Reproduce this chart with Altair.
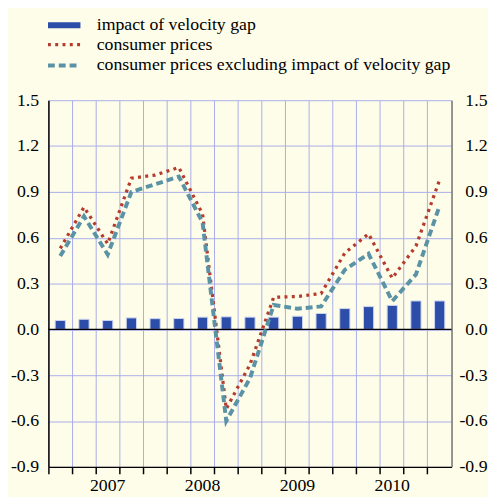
import altair as alt
import pandas as pd

# ---------------- data ----------------
quarters = ["2007Q1", "2007Q2", "2007Q3", "2007Q4",
            "2008Q1", "2008Q2", "2008Q3", "2008Q4",
            "2009Q1", "2009Q2", "2009Q3", "2009Q4",
            "2010Q1", "2010Q2", "2010Q3", "2010Q4",
            "2011Q1"]
velocity_gap = [0.058, 0.066, 0.058, 0.075, 0.07, 0.071, 0.08, 0.082, 0.08,
                0.08, 0.086, 0.104, 0.136, 0.149, 0.157, 0.186, 0.186]
consumer_prices = [0.53, 0.80, 0.56, 0.99, 1.01, 1.06, 0.755, -0.52, -0.23,
                   0.21, 0.215, 0.235, 0.50, 0.625, 0.335, 0.545, 0.98]
excluding_gap = [0.48, 0.74, 0.49, 0.90, 0.95, 1.00, 0.70, -0.60, -0.32,
                 0.16, 0.135, 0.15, 0.39, 0.495, 0.185, 0.36, 0.81]
y_ticks = [-0.9, -0.6, -0.3, 0.0, 0.3, 0.6, 0.9, 1.2, 1.5]

BAR_NAME = "impact of velocity gap"
CP_NAME = "consumer prices"
EX_NAME = "consumer prices excluding impact of velocity gap"

bars_df = pd.DataFrame({"quarter": quarters, "value": velocity_gap, "series": BAR_NAME})
lines_df = pd.concat([
    pd.DataFrame({"quarter": quarters, "value": consumer_prices, "series": CP_NAME}),
    pd.DataFrame({"quarter": quarters, "value": excluding_gap, "series": EX_NAME}),
], ignore_index=True)
zero_df = pd.DataFrame({"zero": [0.0]})

# ---------------- style ----------------
FONT = "Liberation Serif"
BG = "#FEFDE9"
GRID = "#A9AEEA"
BAR_COLOR = "#2C4DA8"
RED = "#B63A2E"
TEAL = "#5B93A6"

label_expr_y = "datum.value < 0 ? '-' + format(-datum.value, '.1f') : format(datum.value, '.1f')"

y_scale = alt.Scale(domain=[-0.9, 1.5], nice=False, zero=False)
x_scale = alt.Scale(paddingInner=0, paddingOuter=0)

x_axis = alt.Axis(
    title=None, bandPosition=0, grid=True, gridColor=GRID, gridWidth=1,
    domainColor="black", domainWidth=1.5, ticks=True, tickSize=7,
    tickColor="black", tickWidth=1.5, labelAngle=0, labelOverlap=False,
    labelExpr="indexof(datum.value, 'Q3') >= 0 ? slice(datum.value, 0, 4) : ''",
    labelFont=FONT, labelFontSize=18, labelColor="black", labelPadding=3,
    labelBaseline="top",
)

x_enc = alt.X("quarter:N", sort=quarters, scale=x_scale, axis=x_axis, bandPosition=0.5)

left_axis = alt.Axis(
    title=None, values=y_ticks, labelExpr=label_expr_y, grid=True,
    gridColor=GRID, gridWidth=1, domainColor="black", domainWidth=1.5,
    ticks=False, tickSize=0, labelPadding=10, labelFont=FONT,
    labelFontSize=18, labelColor="black", orient="left",
)
right_axis = alt.Axis(
    title=None, values=y_ticks, labelExpr=label_expr_y, grid=False,
    domainColor="#707070", domainWidth=1.5, ticks=False, tickSize=0,
    labelPadding=36, labelAlign="right", labelFont=FONT, labelFontSize=18,
    labelColor="black", orient="right",
)

# legend symbols start exactly at the entry origin (symbol centre sits at 9px)
bar_legend = alt.Legend(
    title=None, orient="none", legendX=-0.5, legendY=-85, padding=0,
    symbolType="M-1.636,-0.55L4.364,-0.55L4.364,0.55L-1.636,0.55Z", symbolSize=121,
    symbolStrokeWidth=0, labelFont=FONT, labelFontSize=18,
    labelColor="black", labelOffset=31.5, clipHeight=18, labelLimit=500,
)
line_legend = alt.Legend(
    title=None, orient="none", legendX=-0.5, legendY=-65.3, padding=0,
    symbolType="M-1.636,0L4.364,0", symbolSize=121, symbolStrokeWidth=3.5,
    labelFont=FONT, labelFontSize=18, labelColor="black", labelOffset=31.5,
    clipHeight=18, rowPadding=3, labelLimit=500,
)

bars = alt.Chart(bars_df).mark_bar(
    width=alt.RelativeBandSize(0.43), stroke="#CDD3F2", strokeWidth=1
).encode(
    x=x_enc,
    y=alt.Y("value:Q", scale=y_scale, axis=left_axis),
    fill=alt.Fill("series:N", scale=alt.Scale(domain=[BAR_NAME], range=[BAR_COLOR]),
                  legend=bar_legend),
)

zero_line = alt.Chart(zero_df).mark_rule(color="black", strokeWidth=1.5).encode(
    y=alt.Y("zero:Q", scale=y_scale, axis=None),
)

lines = alt.Chart(lines_df).mark_line(strokeCap="butt").encode(
    x=x_enc,
    y=alt.Y("value:Q", scale=y_scale, axis=right_axis),
    stroke=alt.Stroke("series:N",
                      scale=alt.Scale(domain=[CP_NAME, EX_NAME], range=[RED, TEAL]),
                      legend=line_legend),
    strokeDash=alt.StrokeDash("series:N",
                              scale=alt.Scale(domain=[CP_NAME, EX_NAME],
                                              range=[[3, 4.4], [7, 4]]),
                              legend=line_legend),
    strokeWidth=alt.StrokeWidth("series:N",
                                scale=alt.Scale(domain=[CP_NAME, EX_NAME], range=[3.3, 4]),
                                legend=None),
    detail="series:N",
)

chart = alt.layer(bars, zero_line, lines).resolve_scale(
    y="independent"
).properties(
    width=409, height=372,
    padding={"left": 41, "top": 90, "right": 37, "bottom": 27},
    autosize=alt.AutoSizeParams(type="none"),
    background=BG,
).configure_view(stroke=None)

chart.save("out.html", embed_options={"renderer": "svg", "actions": False})
